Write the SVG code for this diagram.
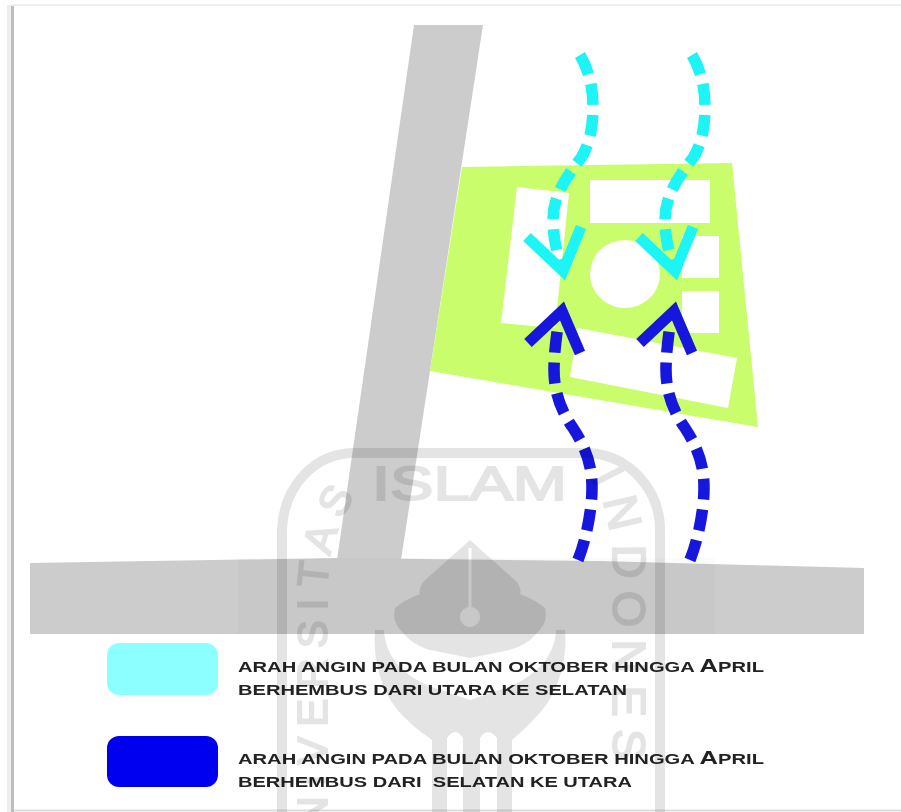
<svg xmlns="http://www.w3.org/2000/svg" width="901" height="812" viewBox="0 0 901 812">
<style>
.road{fill:#cccccc}
.bldg{fill:#ffffff}
.wind{fill:none;stroke-width:11.500;stroke-dasharray:21 10}
.head{fill:none;stroke-width:11;stroke-miterlimit:10}
.cy{stroke:#1af4f6}
.bl{stroke:#1414dc}
.lg{font-family:"Liberation Sans",Arial,sans-serif;font-weight:bold;font-size:15px;fill:#222222}
.big{font-size:19px}
.wm{font-family:"Liberation Sans",Arial,sans-serif;fill:#000;stroke:#000;stroke-width:2}
</style>
<defs>
<filter id="soft" x="-5%" y="-5%" width="110%" height="110%"><feGaussianBlur stdDeviation="0.6"/></filter>
<filter id="softer" x="-5%" y="-20%" width="110%" height="140%"><feGaussianBlur stdDeviation="0.4"/></filter>
<path id="wmL" d="M327,867 L327,590 C327,560 335,530 352,500"/>
<path id="wmR" d="M590,478 C605,502 613,530 613,570 L613,830"/>
<path id="wa" d="M580,55 C590,72 593,90 593,107 C593,128 589,146 581,158 C567,176 553,195 553,220 C553,235 556,250 561,265"/>
<path id="wb" d="M578,560 C586,540 592,510 592,488 C592,462 584,445 573,428 C560,410 554,390 554,370 C554,355 556,340 558,325"/>
</defs>
<rect width="901" height="812" fill="#ffffff"/>
<g id="frame">
<rect x="7" y="5" width="4" height="807" fill="#eeeeee"/>
<rect x="11" y="5" width="3" height="807" fill="#bdbdbd"/>
<rect x="11" y="4" width="890" height="2" fill="#efefef"/>
<rect x="14" y="809.500" width="887" height="2" fill="#dddddd"/>
</g>
<g id="roads" filter="url(#soft)">
<polygon class="road" points="414,25 483,25 401,560 337,560"/>
<polygon class="road" points="30,563 340,558 600,561 864,568 864,634 30,634"/>
<rect x="238" y="558" width="477" height="76" fill="#000" opacity="0.015"/>
</g>
<g id="site" filter="url(#soft)">
<polygon points="462,167 732,163 758,427 430,371" fill="#c9fd6c"/>
<g id="buildings">
<polygon class="bldg" points="517,187 569,193 555,328 501,323"/>
<rect class="bldg" x="590" y="180" width="120" height="43"/>
<rect class="bldg" x="682" y="236" width="37" height="42"/>
<rect class="bldg" x="682" y="291" width="37" height="42"/>
<ellipse class="bldg" cx="625" cy="274" rx="35" ry="34"/>
<polygon class="bldg" points="578,328 737,358 728,408 570,377"/>
</g>
</g>
<g id="connectors" filter="url(#softer)">
<g id="north-winds" class="cy">
<use href="#wa" class="wind"/>
<polyline class="head" points="527,237 563,271 581,227"/>
<use href="#wa" x="112" class="wind"/>
<polyline class="head" points="639,237 675,271 693,227"/>
</g>
<g id="south-winds" class="bl">
<use href="#wb" class="wind"/>
<polyline class="head" points="528,343 562,311 580,353"/>
<use href="#wb" x="112" class="wind"/>
<polyline class="head" points="640,343 674,311 692,353"/>
</g>
</g>
<g id="legend">
<g id="legend-north">
<rect x="107" y="643" width="111" height="52" rx="12" fill="#8cffff"/>
<g filter="url(#softer)">
<text class="lg" x="238" y="672" textLength="526" lengthAdjust="spacingAndGlyphs">ARAH ANGIN PADA BULAN OKTOBER HINGGA <tspan class="big">A</tspan>PRIL</text>
<text class="lg" x="238" y="695" textLength="389" lengthAdjust="spacingAndGlyphs">BERHEMBUS DARI UTARA KE SELATAN</text>
</g>
</g>
<g id="legend-south">
<rect x="107" y="736" width="111" height="51" rx="12" fill="#0000f0"/>
<g filter="url(#softer)">
<text class="lg" x="238" y="764" textLength="526" lengthAdjust="spacingAndGlyphs">ARAH ANGIN PADA BULAN OKTOBER HINGGA <tspan class="big">A</tspan>PRIL</text>
<text class="lg" x="238" y="787" textLength="394" lengthAdjust="spacingAndGlyphs" xml:space="preserve">BERHEMBUS DARI  SELATAN KE UTARA</text>
</g>
</g>
</g>
<g id="watermark" opacity="0.1" filter="url(#soft)">
<path d="M282,812 L282,530 C284,485 315,453 355,453 L590,453 C630,456 660,490 660,530 L660,812" fill="none" stroke="#000" stroke-width="10"/>
<text class="wm" x="372" y="500" style="font-size:48px" textLength="195" lengthAdjust="spacingAndGlyphs">ISLAM</text>
<text class="wm" style="font-size:42px" letter-spacing="10"><textPath href="#wmL">UNIVERSITAS</textPath></text>
<text class="wm" style="font-size:47px" letter-spacing="12"><textPath href="#wmR">INDONES</textPath></text>
<path d="M470,540 L517,582 Q522,590 520,594 Q536,600 545,608 Q549,622 536,634 Q525,648 500,652 L470,658 L440,652 Q415,648 404,634 Q391,622 395,608 Q404,600 420,594 Q418,590 423,582 Z M468.500,548 L468.500,607 A10,10 0 1 0 471.500,607 L471.500,548 Z" fill="#000" fill-rule="evenodd"/>
<path d="M375,630 C372,665 385,700 405,718 C415,728 425,735 432,740 L432,812 L447,812 L447,738 Q455,726 463,738 L463,812 L480,812 L480,738 Q488,726 497,738 L497,812 L512,812 L512,740 C520,733 528,726 535,718 C555,700 568,665 565,630 L556,630 C555,660 530,680 505,688 L470,700 L435,688 C410,680 385,660 384,630 Z" fill="#000"/>
</g>
</svg>
